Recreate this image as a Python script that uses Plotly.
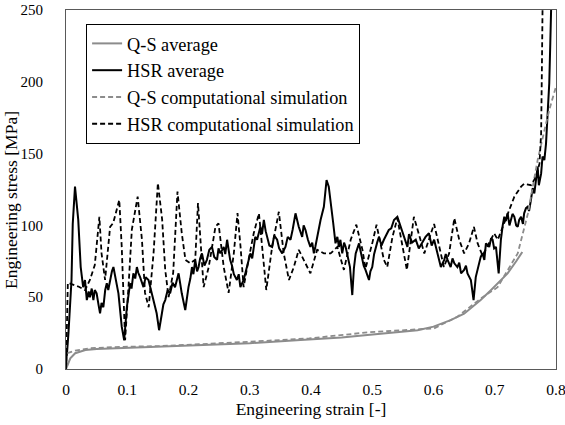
import plotly.graph_objects as go

# ---- data ----
qs_avg_x = [0, .003, .007, .015, .0316, .05, .075, .1, .157, .2, .266, .3, .383, .397, .45, .492, .53, .574, .6, .628, .65, .677, .694, .721, .735, .745]
qs_avg_y = [0, 3.5, 7.4, 11, 13.2, 14, 14.4, 15, 15.5, 16.3, 17.4, 18, 20.2, 20.5, 22, 23.7, 25.3, 27, 29.5, 34, 38.5, 48, 55, 66.6, 75, 81.5]

hsr_avg_x = [0, .004, .009, .011, .0147, .020, .024, .028, .031, .034, .037, .039, .042, .0447, .047, .050, .053, .0556, .058, .061,
             .064, .0666, .069, .072, .075, .0774, .081, .0856, .091, .095, .0993, .102, .1047, .107, .110, .113, .1157, .118, .121, .1265,
             .130, .1347, .137, .140, .148, .152, .1566, .159, .162, .166, .170, .174, .178, .1838, .189, .1947, .200, .203, .2057, .208,
             .211, .214, .2165, .219, .222, .226, .230, .234, .2384, .242, .2466, .249, .252, .2575, .260, .263, .268, .271, .274, .279,
             .282, .2847, .290, .2956, .298, .301, .304, .3065, .309, .312, .315, .3174, .320, .323, .326, .3284, .332, .3365, .340, .3447,
             .348, .353, .3583, .362, .3665, .370, .3747, .380, .383, .3856, .388, .391, .395, .399, .402, .4047, .407, .410, .413, .4156,
             .421, .4254, .429, .432, .4363, .440, .443, .4456, .448, .451, .454, .4566, .460, .4636, .4674, .470, .473, .476, .4784, .481,
             .4838, .486, .489, .4947, .497, .500, .503, .5055, .508, .511, .515, .519, .523, .527, .531, .5355, .541, .5466, .549, .552,
             .5574, .560, .565, .571, .576, .581, .587, .5925, .597, .601, .6065, .609, .612, .6175, .620, .623, .628, .631, .634, .639,
             .642, .645, .650, .653, .6555, .661, .6654, .669, .672, .6746, .677, .680, .683, .6856, .691, .694, .6965, .699, .702, .7064,
             .710, .713, .7156, .718, .721, .724, .7266, .729, .732, .735, .7375, .740, .743, .746, .748, .751, .7537, .756, .759, .762,
             .7646, .767, .770, .772, .7757, .778, .781, .7837, .7865, .789, .7907, .792]
hsr_avg_y = [1.6, 25, 62, 101, 127, 103.8, 71, 57, 62, 48, 54, 50, 56, 48, 55, 52.7, 45, 38.8, 46, 43,
             55, 59.7, 55, 62, 68, 71, 64, 52.7, 29.5, 20, 43, 50, 59.7, 56, 66.6, 63, 71, 67, 64, 57,
             64, 62, 57, 52.7, 38.8, 27, 38.8, 45, 48, 55, 52.7, 60, 57, 66.6, 52.7, 41, 57, 63, 71, 66,
             76, 68, 71, 77, 80.5, 72, 76, 83, 85, 78, 76, 84, 80.5, 85, 80, 90, 76, 72, 66, 62,
             66, 57, 62, 71, 76, 80.5, 77, 85, 92, 90, 96, 99, 94, 103.8, 96, 92, 86, 85, 93, 90,
             84, 80.5, 85, 92, 90, 97, 108.4, 99, 95, 92, 100, 96.8, 90, 85, 88, 80.5, 85, 92, 98, 103.8,
             113, 131.6, 127, 117.7, 101.5, 87.5, 92, 85, 90, 80.5, 88, 85, 78, 71, 51.5, 70, 80.5, 84, 87.5, 82,
             76, 72, 69, 62, 68, 71, 80, 85, 88, 92, 86, 90, 94, 96.8, 98, 103.8, 106, 99, 95, 92,
             85, 94, 88, 90, 84, 87.5, 92, 94.5, 86, 90, 80.5, 76, 71, 76, 80, 76, 71, 77, 73.6, 71,
             74, 66.6, 69, 72, 66.6, 62, 48, 64, 70, 73.6, 78, 80.5, 76, 87.5, 85, 91, 90, 84, 85, 66.6,
             90, 100, 106, 103, 108.4, 100, 103.8, 108, 106, 100, 99, 104, 106, 101, 108.4, 112, 113, 110, 117.7, 126,
             122.3, 132, 141, 128, 136, 148, 145.5, 157, 175.7, 199, 227, 250]

qs_sim_x = [0, .002, .015, .04, .08, .157, .3, .397, .492, .55, .601, .639, .677, .7047, .72, .7375, .754, .770, .7837, .79, .800]
qs_sim_y = [0, 11, 12.8, 14.5, 15.3, 16, 19, 21.3, 25.5, 27, 28.3, 36.4, 49, 57, 68, 80.5, 108, 145.5, 171, 182, 196.6]

hsr_sim_x = [0, .003, .021, .031, .039, .047, .0545, .058, .0638, .072, .077, .087, .091, .0965, .102, .1075, .117, .124, .129, .135,
             .143, .150, .157, .162, .1675, .175, .182, .189, .195, .203, .211, .2155, .2247, .233, .244, .249, .2575, .2655, .274, .280,
             .285, .290, .298, .3065, .315, .320, .327, .3365, .3475, .3555, .364, .372, .380, .399, .410, .421, .432, .443, .4537, .4648,
             .474, .484, .489, .500, .507, .519, .5245, .533, .541, .5565, .568, .585, .601, .617, .6255, .634, .642, .650, .658, .666,
             .672, .680, .691, .699, .705, .721, .732, .743, .748, .759, .7676, .773, .7757, .777, .778]
hsr_sim_y = [0, 60, 57.3, 55, 62, 72.4, 106, 80.6, 62, 99, 101.6, 117.7, 85, 20, 57, 97, 120, 90, 53, 43,
             81, 129.5, 104, 69, 50, 67, 123.5, 94.6, 76, 73.6, 76, 115.5, 57, 71, 99, 101.5, 71, 53, 80.6, 108.5,
             85, 57, 76, 94.5, 108.4, 85, 55, 85, 109.5, 80.5, 62, 71, 83, 66.6, 83, 80.5, 80.5, 85, 69, 90,
             100.5, 83, 70, 87.5, 100.5, 76, 71, 92, 105, 69, 106, 80.5, 101, 71, 80.5, 105, 90, 80.5, 87.5, 99,
             87.5, 79, 87.5, 94.5, 90, 108.4, 120, 127, 129, 128, 134, 143, 164, 210, 250]

labels = ["Q-S average", "HSR average", "Q-S computational simulation", "HSR computational simulation"]
x_title = "Engineering strain [-]"
y_title = "Engineering stress [MPa]"
x_ticks = [0, 0.1, 0.2, 0.3, 0.4, 0.5, 0.6, 0.7, 0.8]
x_tick_text = ["0", "0.1", "0.2", "0.3", "0.4", "0.5", "0.6", "0.7", "0.8"]
y_ticks = [0, 50, 100, 150, 200, 250]

GREY = "#8c8c8c"
FONT = "serif"

fig = go.Figure()
fig.add_trace(go.Scatter(x=qs_avg_x, y=qs_avg_y, mode="lines", name=labels[0],
                         line=dict(color=GREY, width=2)))
fig.add_trace(go.Scatter(x=hsr_avg_x, y=hsr_avg_y, mode="lines", name=labels[1],
                         line=dict(color="black", width=2)))
fig.add_trace(go.Scatter(x=qs_sim_x, y=qs_sim_y, mode="lines", name=labels[2],
                         line=dict(color=GREY, width=1.8, dash="5px,3px")))
fig.add_trace(go.Scatter(x=hsr_sim_x, y=hsr_sim_y, mode="lines", name=labels[3],
                         line=dict(color="black", width=1.8, dash="5px,3px")))

axis_common = dict(showline=True, mirror=True, linecolor="#595959", linewidth=1,
                   showgrid=False, zeroline=False, ticks="", automargin=False,
                   ticklabeloverflow="allow")

fig.update_layout(
    template="none",
    width=565, height=425,
    margin=dict(l=66, r=9, t=10, b=56),
    paper_bgcolor="white", plot_bgcolor="white",
    font=dict(family=FONT, color="black"),
    xaxis=dict(range=[0, 0.8], tickvals=x_ticks, ticktext=x_tick_text,
               tickfont=dict(family=FONT, size=15.5, color="black"),
               title=dict(text=x_title, font=dict(family=FONT, size=17.5), standoff=6),
               ticklabelstandoff=6, **axis_common),
    yaxis=dict(range=[0, 250], tickvals=y_ticks,
               tickfont=dict(family=FONT, size=15, color="black"),
               ticklabelstandoff=19, **axis_common),
    legend=dict(x=0.041, y=0.961, xanchor="left", yanchor="top",
                bordercolor="black", borderwidth=1, bgcolor="white",
                font=dict(family=FONT, size=18.3, color="black"),
                tracegroupgap=0),
    showlegend=True,
    annotations=[dict(text=y_title, textangle=-90, xref="paper", yref="paper",
                      x=-0.111, y=0.47, xanchor="center", yanchor="middle", showarrow=False,
                      font=dict(family=FONT, size=17.5, color="black"))],
)

fig.write_html("out.html", config={"displayModeBar": False},
               post_script="document.body.style.margin='0';document.body.style.padding='0';")
